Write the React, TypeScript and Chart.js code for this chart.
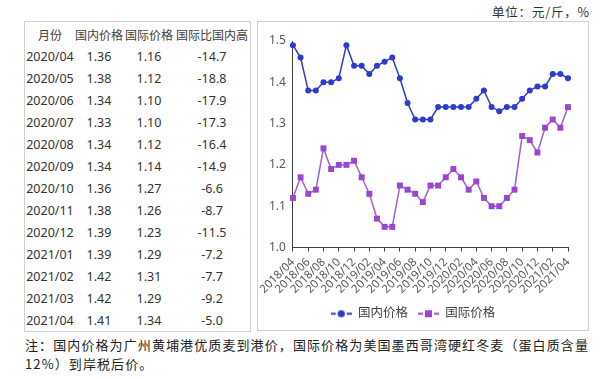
import React, { useEffect, useRef } from "react";
import { Chart, registerables } from "chart.js";

Chart.register(...registerables);

// ---- chart data ----
const months = [
  "2018/04", "2018/05", "2018/06", "2018/07", "2018/08", "2018/09", "2018/10", "2018/11", "2018/12",
  "2019/01", "2019/02", "2019/03", "2019/04", "2019/05", "2019/06", "2019/07", "2019/08", "2019/09",
  "2019/10", "2019/11", "2019/12", "2020/01", "2020/02", "2020/03", "2020/04", "2020/05", "2020/06",
  "2020/07", "2020/08", "2020/09", "2020/10", "2020/11", "2020/12", "2021/01", "2021/02", "2021/03",
  "2021/04",
];
const domesticPrice = [
  1.49, 1.46, 1.38, 1.38, 1.40, 1.40, 1.41, 1.49, 1.44,
  1.44, 1.42, 1.44, 1.45, 1.46, 1.41, 1.35, 1.31, 1.31,
  1.31, 1.34, 1.34, 1.34, 1.34, 1.34, 1.36, 1.38, 1.34,
  1.33, 1.34, 1.34, 1.36, 1.38, 1.39, 1.39, 1.42, 1.42,
  1.41,
];
const intlPrice = [
  1.12, 1.17, 1.13, 1.14, 1.24, 1.19, 1.20, 1.20, 1.21,
  1.17, 1.13, 1.07, 1.05, 1.05, 1.15, 1.14, 1.13, 1.11,
  1.15, 1.15, 1.17, 1.19, 1.17, 1.14, 1.16, 1.12, 1.10,
  1.10, 1.12, 1.14, 1.27, 1.26, 1.23, 1.29, 1.31, 1.29,
  1.34,
];
const seriesNames = ["国内价格", "国际价格"];
const yTicks = [1.0, 1.1, 1.2, 1.3, 1.4, 1.5];

// ---- table data ----
const tableHeaders = ["月份", "国内价格", "国际价格", "国际比国内高"];
const tableMonths = [
  "2020/04", "2020/05", "2020/06", "2020/07", "2020/08", "2020/09", "2020/10",
  "2020/11", "2020/12", "2021/01", "2021/02", "2021/03", "2021/04",
];
const tableDomestic = [1.36, 1.38, 1.34, 1.33, 1.34, 1.34, 1.36, 1.38, 1.39, 1.39, 1.42, 1.42, 1.41];
const tableIntl = [1.16, 1.12, 1.10, 1.10, 1.12, 1.14, 1.27, 1.26, 1.23, 1.29, 1.31, 1.29, 1.34];
const tableGap = [-14.7, -18.8, -17.9, -17.3, -16.4, -14.9, -6.6, -8.7, -11.5, -7.2, -7.7, -9.2, -5.0];

const unitText = "单位：元/斤，%";
const noteLine1 = "注：国内价格为广州黄埔港优质麦到港价，国际价格为美国墨西哥湾硬红冬麦（蛋白质含量";
const noteLine2 = "12%）到岸税后价。";

const BLUE = "#2c3ccc";
const PURPLE = "#9c45d2";
const PURPLE_LINE = "#a060d0";

const FONT = "'Noto Sans', 'Noto Sans CJK SC', sans-serif";

function makeMarker(color: string, shape: "circle" | "rect"): HTMLCanvasElement {
  const c = document.createElement("canvas");
  c.width = 21;
  c.height = 9;
  const ctx = c.getContext("2d")!;
  ctx.strokeStyle = color;
  ctx.fillStyle = color;
  ctx.lineWidth = 2;
  ctx.beginPath();
  ctx.moveTo(0, 4.5);
  ctx.lineTo(5, 4.5);
  ctx.moveTo(16, 4.5);
  ctx.lineTo(21, 4.5);
  ctx.stroke();
  if (shape === "circle") {
    ctx.beginPath();
    ctx.arc(10.5, 4.5, 3.6, 0, Math.PI * 2);
    ctx.fill();
  } else {
    ctx.fillRect(7, 1, 7, 7);
  }
  return c;
}

const colCenters = [50, 99, 149, 212];

export default function App() {
  const canvasRef = useRef<HTMLCanvasElement | null>(null);

  useEffect(() => {
    if (!canvasRef.current) return;
    const markers = [makeMarker(BLUE, "circle"), makeMarker(PURPLE, "rect")];
    const chart = new Chart(canvasRef.current, {
      type: "line",
      data: {
        labels: months,
        datasets: [
          {
            label: seriesNames[0],
            data: domesticPrice,
            borderColor: BLUE,
            backgroundColor: BLUE,
            pointBackgroundColor: BLUE,
            pointBorderColor: BLUE,
            pointStyle: "circle",
            pointRadius: 3,
            pointBorderWidth: 0,
            borderWidth: 1.5,
            tension: 0,
            clip: false as any,
          },
          {
            label: seriesNames[1],
            data: intlPrice,
            borderColor: PURPLE_LINE,
            backgroundColor: PURPLE,
            pointBackgroundColor: PURPLE,
            pointBorderColor: PURPLE,
            pointStyle: "rect",
            pointRadius: 4.2,
            pointBorderWidth: 0,
            borderWidth: 1.5,
            tension: 0,
            clip: false as any,
          },
        ],
      },
      options: {
        animation: false,
        responsive: false,
        maintainAspectRatio: false,
        layout: { padding: { left: 0, right: 20, top: 19, bottom: 0 } },
        plugins: {
          tooltip: { enabled: false },
          legend: {
            position: "bottom",
            labels: {
              usePointStyle: true,
              pointStyleWidth: 21,
              boxHeight: 9,
              padding: 10,
              color: "#404040",
              font: { size: 12.5, family: FONT },
              generateLabels: (ch: any) => {
                const items = (Chart.defaults.plugins.legend.labels.generateLabels as any)(ch);
                items.forEach((it: any, i: number) => {
                  it.pointStyle = markers[i];
                });
                return items;
              },
            },
          },
        },
        scales: {
          x: {
            type: "category",
            offset: false,
            grid: {
              display: true,
              drawOnChartArea: false,
              drawTicks: true,
              tickLength: 4,
              color: "#404040",
            },
            border: { display: true, color: "#404040", width: 1 },
            ticks: {
              autoSkip: false,
              maxRotation: 45,
              minRotation: 45,
              padding: 4,
              color: "#595959",
              font: { size: 11.5, family: FONT },
              callback: function (this: any, v: any, i: number) {
                return i % 2 === 0 ? this.getLabelForValue(v) : null;
              },
            },
            afterFit: (s: any) => {
              s.height = 50;
            },
          },
          y: {
            min: yTicks[0],
            max: yTicks[yTicks.length - 1],
            grid: { display: false, drawTicks: false },
            border: { display: true, color: "#404040", width: 1 },
            ticks: {
              stepSize: 0.1,
              padding: 7,
              color: "#595959",
              font: { size: 12, family: FONT },
              callback: (v: any) => Number(v).toFixed(1),
            },
            afterFit: (s: any) => {
              s.width = 34;
            },
          },
        },
      },
    } as any);
    return () => chart.destroy();
  }, []);

  const cellBase: React.CSSProperties = {
    position: "absolute",
    width: 80,
    marginLeft: -40,
    textAlign: "center",
    height: 22,
    lineHeight: "22px",
    whiteSpace: "nowrap",
  };

  return (
    <div
      style={{
        position: "fixed",
        left: 0,
        top: 0,
        width: 607,
        height: 379,
        background: "#fff",
        overflow: "hidden",
        fontFamily: FONT,
        color: "#333",
      }}
    >
      {/* unit */}
      <div
        style={{
          position: "absolute",
          left: 492,
          top: 3,
          fontSize: 12.5,
          lineHeight: "18px",
          letterSpacing: 0.8,
          color: "#333",
          whiteSpace: "nowrap",
          fontFamily: "'Noto Sans CJK SC', sans-serif",
        }}
      >
        {unitText}
      </div>

      {/* table box */}
      <div
        style={{
          position: "absolute",
          left: 24,
          top: 21,
          width: 225,
          height: 309,
          border: "1px solid #d0d0d0",
        }}
      />
      {tableHeaders.map((h, c) => (
        <div
          key={"h" + c}
          style={{
            ...cellBase,
            left: colCenters[c],
            top: 24,
            fontSize: 12,
            color: "#404040",
            fontFamily: "'Noto Sans CJK SC', sans-serif",
          }}
        >
          {h}
        </div>
      ))}
      {tableMonths.map((m, r) => {
        const top = 24 + 22 * (r + 1);
        const vals = [
          m,
          tableDomestic[r].toFixed(2),
          tableIntl[r].toFixed(2),
          tableGap[r].toFixed(1),
        ];
        return vals.map((v, c) => (
          <div
            key={"r" + r + "c" + c}
            style={{ ...cellBase, left: colCenters[c], top, fontSize: 12.5, color: "#333" }}
          >
            {v}
          </div>
        ));
      })}

      {/* chart box */}
      <div
        style={{
          position: "absolute",
          left: 257,
          top: 21,
          width: 330,
          height: 308,
          border: "1px solid #d0d0d0",
        }}
      >
        <canvas
          ref={canvasRef}
          width={330}
          height={308}
          style={{ display: "block", width: 330, height: 308 }}
        />
      </div>

      {/* note */}
      <div
        style={{
          position: "absolute",
          left: 25,
          top: 335,
          fontSize: 13,
          lineHeight: "19px",
          letterSpacing: 1.1,
          color: "#222",
          whiteSpace: "nowrap",
          fontFamily: "'Noto Sans CJK SC', sans-serif",
        }}
      >
        <div>{noteLine1}</div>
        <div>{noteLine2}</div>
      </div>
    </div>
  );
}
